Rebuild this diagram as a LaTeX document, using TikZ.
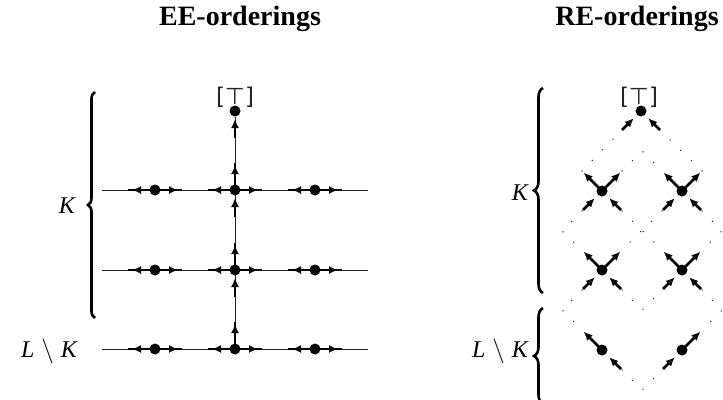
\documentclass[tikz,border=0pt]{standalone}
\usepackage{fontspec}
\setmainfont{Liberation Serif}
\newfontfamily\symfont{DejaVu Sans}
\usetikzlibrary{arrows.meta,decorations.pathreplacing,calc,backgrounds}
\begin{document}
\begin{tikzpicture}[x=1pt,y=-1pt,
  dot/.style={circle,fill=black,inner sep=0pt,minimum size=11pt},
  thinln/.style={line width=0.9pt,black!85},
  thk/.style={line width=2.8pt},
  tip/.style={-{Latex[length=9pt,width=8pt]}},
  mesh/.style={line width=1.5pt,line cap=round,dash pattern=on 0pt off 14.8pt,black!85},
  brc/.style={decorate,decoration={brace,amplitude=#1},line width=2.6pt},
  brc/.default=8pt,
  title/.style={font=\fontsize{28}{30}\selectfont\bfseries,anchor=base},
  toplbl/.style={font=\symfont\fontsize{23}{25}\selectfont,text=black!85,anchor=base},
  lbl/.style={font=\fontsize{24}{26}\selectfont,anchor=base east,inner sep=0pt}
]
\useasboundingbox (0,0) rectangle (723,399);

% titles
\node[title] (tee) at (240,25) {EE-orderings};
\node[title] (tre) at (637,25) {RE-orderings};

% ---------------- EE-orderings ----------------
\node[dot] (t) at (235,111) {};
\node[toplbl] (tl) at (235,104) {[⊤]};
\foreach \r/\y in {1/190,2/270,3/349}{
  \foreach \c/\x in {1/155,2/235,3/315}{\node[dot] (e\r\c) at (\x,\y) {};}
  \coordinate (l\r) at (102,\y);
  \coordinate (r\r) at (368,\y);
}
\begin{scope}[on background layer]
  \foreach \r in {1,2,3} \draw[thinln] (l\r) -- (r\r);
  \draw[thinln] (t) -- (e32);
  \foreach \r in {1,2,3}{\foreach \c in {1,2,3}{
    \draw[thk] (e\r\c.center) -- ++(-27,0);
    \draw[thk,tip] (e\r\c.center) -- ++(-23,0);
    \draw[thk] (e\r\c.center) -- ++(27,0);
    \draw[thk,tip] (e\r\c.center) -- ++(23,0);
  }}
  \foreach \lo/\up in {e12/t,e22/e12,e32/e22}{
    \draw[thk] (\lo.center) -- ++(0,-27);
    \draw[thk,tip] (\lo.center) -- ++(0,-25);
    \draw[thk,tip] ($(\up.center)+(0,27)$) -- ($(\up.center)+(0,8)$);
  }
\end{scope}

% labels and brace (EE)
\node[lbl] (kl) at (75,213) {\itshape K};
\node[lbl] (lkl) at (77,357) {\itshape L\hspace{7pt}$\setminus$\hspace{7pt}K};
\draw[brc=7pt] (95,318) -- (95,92);

% ---------------- RE-orderings ----------------
\foreach \n/\x/\y in {A/641/111,B1/602/191,B2/682/191,C1/602/270,C2/682/270,D1/602/350,D2/682/350}{
  \node[dot] (\n) at (\x,\y) {};
  \coordinate (\n-nw) at (\x-20,\y-20);
  \coordinate (\n-ne) at (\x+20,\y-20);
  \coordinate (\n-sw) at (\x-20,\y+20);
  \coordinate (\n-se) at (\x+20,\y+20);
}
\node[toplbl] (tr) at (639,104) {[⊤]};
\coordinate (m1) at (642,151);
\coordinate (m2) at (562,231);
\coordinate (m3) at (722,231);
\coordinate (m4) at (562,310);
\coordinate (m5) at (642,310);
\coordinate (m6) at (722,310);
\coordinate (m7) at (642,390);
\begin{scope}[on background layer]
  \draw[mesh] (B1-nw) -- (A-sw);
  \draw[mesh] (B2-ne) -- (A-se);
  \draw[mesh] (B1-ne) -- (m1) -- (B2-nw);
  \draw[mesh] (B1-sw) -- (m2) -- (C1-nw);
  \draw[mesh] (B1-se) -- (C2-nw);
  \draw[mesh] (B2-sw) -- (C1-ne);
  \draw[mesh] (B2-se) -- (m3) -- (C2-ne);
  \draw[mesh] (C1-sw) -- (m4) -- (D1-nw);
  \draw[mesh] (C1-se) -- (m5) -- (C2-sw);
  \draw[mesh] (C2-se) -- (m6) -- (D2-ne);
  \draw[mesh] (D1-se) -- (m7) -- (D2-sw);
  \foreach \n/\d in {B1/nw,B1/ne,B2/nw,B2/ne,C1/nw,C1/ne,C2/nw,C2/ne,D1/nw,D2/ne}
    \draw[thk,tip] (\n.center) -- ($(\n.center)!0.92!(\n-\d)$);
  \foreach \n/\d in {A/sw,A/se,B1/sw,B1/se,B2/sw,B2/se,C1/sw,C1/se,C2/sw,C2/se,D1/se,D2/sw}
    \draw[thk,tip] ($(\n.center)!0.95!(\n-\d)$) -- ($(\n.center)!0.36!(\n-\d)$);
\end{scope}

% labels and braces (RE)
\node[lbl] (kr) at (528,200) {\itshape K};
\node[lbl] (lkr) at (528,357) {\itshape L\hspace{7pt}$\setminus$\hspace{7pt}K};
\draw[brc=9pt] (543,293) -- (543,88);
\draw[brc=9pt] (543,404) -- (543,308);
\end{tikzpicture}
\end{document}
